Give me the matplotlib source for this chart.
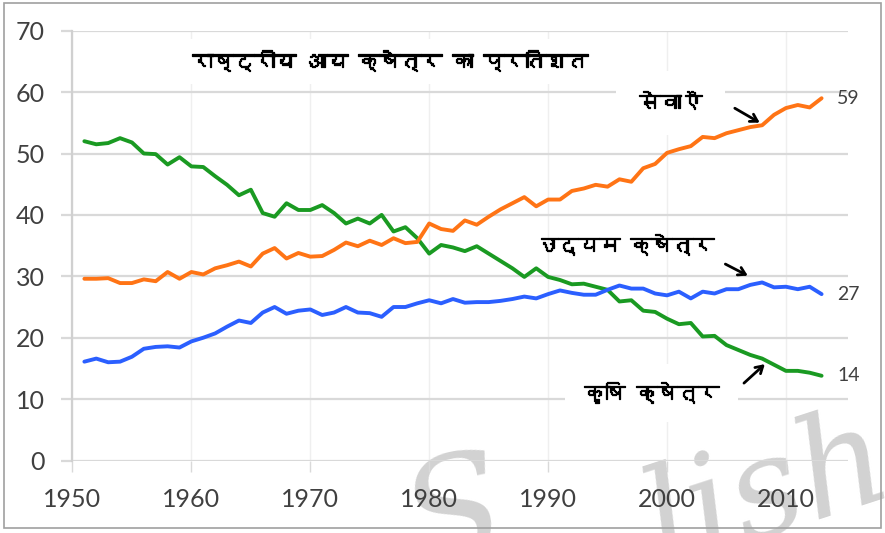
import numpy as np
import matplotlib
matplotlib.use('Agg')
import matplotlib.pyplot as plt
import matplotlib.patheffects as pe
from matplotlib import font_manager, ft2font

# data (percent of national income)
years = np.arange(1951, 2014)
agri = [52.0, 51.5, 51.7, 52.5, 51.8, 50.0, 49.9, 48.2, 49.4, 47.9,
        47.8, 46.3, 44.9, 43.2, 44.1, 40.3, 39.7, 41.9, 40.8, 40.8,
        41.6, 40.3, 38.6, 39.4, 38.6, 40.0, 37.3, 38.0, 36.2, 33.7,
        35.1, 34.7, 34.1, 34.9, 33.7, 32.5, 31.3, 29.9, 31.3, 29.9,
        29.4, 28.7, 28.8, 28.3, 27.8, 25.9, 26.1, 24.4, 24.2, 23.1,
        22.2, 22.4, 20.2, 20.3, 18.8, 18.0, 17.2, 16.6, 15.6, 14.6,
        14.6, 14.3, 13.8]
services = [29.6, 29.6, 29.7, 28.9, 28.9, 29.5, 29.2, 30.7, 29.6, 30.7,
            30.3, 31.3, 31.8, 32.4, 31.6, 33.7, 34.6, 32.9, 33.8, 33.2,
            33.3, 34.3, 35.5, 34.9, 35.8, 35.1, 36.2, 35.4, 35.6, 38.6,
            37.7, 37.4, 39.1, 38.4, 39.7, 40.9, 41.9, 42.9, 41.4, 42.5,
            42.5, 43.9, 44.3, 44.9, 44.6, 45.8, 45.4, 47.6, 48.3, 50.1,
            50.7, 51.2, 52.7, 52.5, 53.3, 53.8, 54.3, 54.6, 56.3, 57.4,
            57.9, 57.5, 59.0]
industry = [16.1, 16.6, 16.0, 16.1, 16.9, 18.2, 18.5, 18.6, 18.4, 19.4,
            20.0, 20.7, 21.8, 22.8, 22.4, 24.1, 25.0, 23.9, 24.4, 24.6,
            23.7, 24.1, 25.0, 24.1, 24.0, 23.4, 25.0, 25.0, 25.6, 26.1,
            25.6, 26.3, 25.7, 25.8, 25.8, 26.0, 26.3, 26.7, 26.4, 27.1,
            27.7, 27.3, 27.0, 27.0, 27.8, 28.5, 28.0, 28.0, 27.2, 26.9,
            27.5, 26.4, 27.5, 27.2, 27.9, 27.9, 28.6, 29.0, 28.2, 28.3,
            27.9, 28.3, 27.1]

title = 'राष्ट्रीय आय क्षेत्र का प्रतिशत'
lbl_services = 'सेवाएँ'
lbl_industry = 'उद्यम क्षेत्र'
lbl_agri = 'कृषि क्षेत्र'
end_labels = ['59', '27', '14']


def find_font(ch):
    # pick an installed family that has the Devanagari glyph
    for f in font_manager.fontManager.ttflist:
        try:
            ft = ft2font.FT2Font(f.fname)
            if ft.get_char_index(ord(ch)):
                return f.name
        except Exception:
            pass
    return 'DejaVu Sans'


hindi = find_font('क')
num_font = 'Lato'
bold_fx = [pe.withStroke(linewidth=0.9, foreground='black')]

fig = plt.figure(figsize=(8.85, 5.33), dpi=100)
ax = fig.add_axes([0.0819, 0.136, 0.876, 0.8064])
ax.set_facecolor('none')

c_green = '#1a9a22'
c_orange = '#ff7415'
c_blue = '#2b5fff'

for ser, col in [(agri, c_green), (services, c_orange), (industry, c_blue)]:
    ax.plot(years, ser, color=col, lw=2.8, solid_joinstyle='round',
            solid_capstyle='round', zorder=3)

ax.set_xlim(1950, 2015.2)
ax.set_ylim(0, 70)
ax.set_xticks(range(1950, 2011, 10))
ax.set_yticks(range(0, 71, 10))
ax.grid(axis='y', color='#d9d9d9', lw=1.6)
ax.grid(axis='x', color='#efefef', lw=1.0)
ax.set_axisbelow(True)
for s in ['top', 'right', 'bottom']:
    ax.spines[s].set_visible(False)
ax.spines['left'].set_color('#d0d0d0')
ax.spines['left'].set_linewidth(1.6)
ax.tick_params(axis='y', length=8, width=1.6, color='#d9d9d9', pad=12,
               labelsize=18, labelcolor='#404040')
ax.tick_params(axis='x', length=8, width=1.0, color='#d9d9d9', pad=12,
               labelsize=18, labelcolor='#404040')
for t in ax.get_xticklabels() + ax.get_yticklabels():
    t.set_family(num_font)

# white label boxes and texts (under the lines, over the grid)
ax.text(1976.7, 65.0, title, family=[hindi, 'DejaVu Sans'], fontsize=15,
        fontweight='bold', ha='center', va='center', zorder=2.5, path_effects=bold_fx,
        bbox=dict(boxstyle='square,pad=0.6', fc='white', ec='none'))
ax.text(2000.3, 58.2, lbl_services, family=[hindi, 'DejaVu Sans'], fontsize=15,
        fontweight='bold', ha='center', va='center', zorder=2.5, path_effects=bold_fx,
        bbox=dict(boxstyle='square,pad=1.1', fc='white', ec='none'))
ax.text(1996.5, 35.1, lbl_industry, family=[hindi, 'DejaVu Sans'], fontsize=15,
        fontweight='bold', ha='center', va='center', zorder=2.5, path_effects=bold_fx)
ax.text(1998.7, 11.0, lbl_agri, family=[hindi, 'DejaVu Sans'], fontsize=15,
        fontweight='bold', ha='center', va='center', zorder=2.5, path_effects=bold_fx,
        bbox=dict(boxstyle='square,pad=0.9', fc='white', ec='none'))

ends = [services[-1], industry[-1], agri[-1]]
for lab, v in zip(end_labels, ends):
    ax.text(2014.3, v, lab, family=num_font, fontsize=14, color='#404040',
            ha='left', va='center', clip_on=False)

arrow = dict(arrowstyle='->,head_length=0.5,head_width=0.3', color='black', lw=2)
ax.annotate('', xy=(2008.0, 54.8), xytext=(2005.5, 57.6), arrowprops=arrow, zorder=5)
ax.annotate('', xy=(2007.0, 29.9), xytext=(2004.7, 32.2), arrowprops=arrow, zorder=5)
ax.annotate('', xy=(2008.4, 16.0), xytext=(2006.3, 12.3), arrowprops=arrow, zorder=5)

# faint watermark behind the chart (cut by the picture edge, as in the reference)
fig.text(455 / 885, -35 / 533, 'S', fontsize=105, style='italic', family='DejaVu Serif',
         color='#d2d2d2', rotation=12, ha='center', va='baseline', zorder=-1)
fig.text(628 / 885, -35 / 533, 'lishe', fontsize=100, style='italic', family='DejaVu Serif',
         color='#d2d2d2', rotation=18, ha='left', va='baseline', zorder=-1)

# thin grey frame round the picture
fig.patches.append(plt.Rectangle((0.004, 0.01), 0.992, 0.984, transform=fig.transFigure,
                                 fill=False, ec='#a0a0a0', lw=1.2))

fig.savefig('out.png', dpi=100)
